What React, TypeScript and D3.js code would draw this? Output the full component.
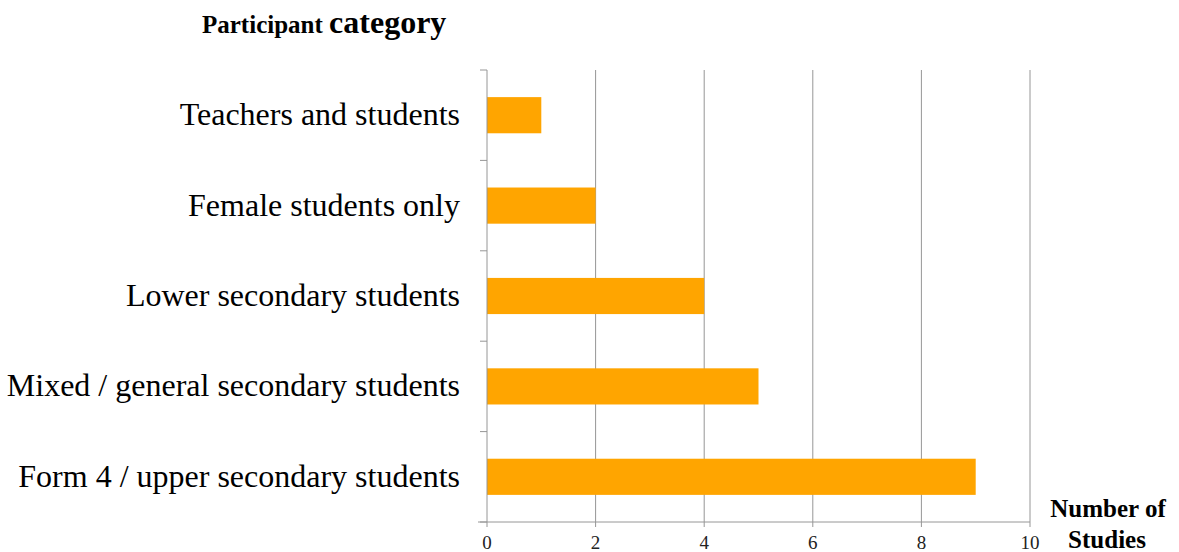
import React from "react";
import * as d3 from "d3";

const categories = [
  "Teachers and students",
  "Female students only",
  "Lower secondary students",
  "Mixed / general secondary students",
  "Form 4 / upper secondary students",
];
const studies = [1, 2, 4, 5, 9];
const xTicks = [0, 2, 4, 6, 8, 10];

const W = 1179;
const H = 552;
const left = 487;
const right = 1030;
const top = 70;
const bottom = 522;
const grid = "#969696";
const serif = "'Liberation Serif', 'Times New Roman', serif";

export default function App() {
  const x = d3.scaleLinear().domain([0, 10]).range([left, right]);
  const yOuter = d3.scaleBand<string>().domain(categories).range([top, bottom]).padding(0);
  const y = d3
    .scaleBand<string>()
    .domain(categories)
    .range([top, bottom])
    .paddingInner(0.6)
    .paddingOuter(0.3);
  const boundaries = [top, ...categories.map((c) => (yOuter(c) as number) + yOuter.bandwidth())];

  return (
    <svg
      width={W}
      height={H}
      style={{ position: "fixed", left: 0, top: 0, background: "#fff" }}
      fontFamily={serif}
    >
      {xTicks.slice(1).map((t) => (
        <line key={"g" + t} x1={x(t)} x2={x(t)} y1={top} y2={bottom + 5} stroke={grid} strokeWidth={1} />
      ))}
      {categories.map((c, i) => (
        <rect
          key={c}
          x={x(0)}
          y={y(c)}
          width={x(studies[i]) - x(0)}
          height={y.bandwidth()}
          fill="#FFA500"
        />
      ))}
      <line x1={left} x2={left} y1={top} y2={bottom + 5} stroke={grid} strokeWidth={1} />
      {boundaries.map((b, i) => (
        <line key={"yt" + i} x1={left - 7} x2={left} y1={b} y2={b} stroke={grid} strokeWidth={1} />
      ))}
      <line x1={left - 9} x2={right} y1={bottom} y2={bottom} stroke={grid} strokeWidth={1} />
      {xTicks.map((t) => (
        <text key={"xl" + t} x={x(t)} y={549} fontSize={19} textAnchor="middle" fill="#222">
          {t}
        </text>
      ))}
      {categories.map((c) => (
        <text
          key={"cl" + c}
          x={460}
          y={(yOuter(c) as number) + yOuter.bandwidth() / 2 + 10}
          fontSize={32}
          textAnchor="end"
          fill="#000"
        >
          {c}
        </text>
      ))}
      <text x={202} y={33} fontWeight="bold" fill="#000">
        <tspan fontSize={25}>Participant </tspan>
        <tspan fontSize={32}>category</tspan>
      </text>
      <text x={1108} y={517} fontWeight="bold" fontSize={25} textAnchor="middle" fill="#000">
        Number of
      </text>
      <text x={1107} y={548} fontWeight="bold" fontSize={25} textAnchor="middle" fill="#000">
        Studies
      </text>
    </svg>
  );
}
